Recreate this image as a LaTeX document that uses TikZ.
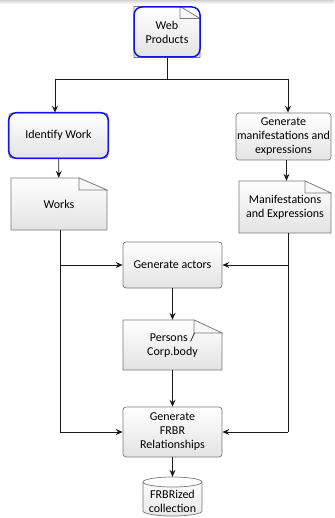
\documentclass[tikz,border=0pt]{standalone}
\usepackage{fontspec}
\setmainfont{Carlito}
\usetikzlibrary{arrows.meta}

\definecolor{edge}{HTML}{7A7A7A}
\definecolor{hiblue}{HTML}{1010F0}
\definecolor{wire}{HTML}{1A1A1A}

% document shape with a folded top-right corner:
% name, x, y, width, height, fold width, fold height, text
\newcommand\docbox[8]{%
  \path[shade, top color=white, bottom color=gray!22, draw=edge, line width=0.7pt]
    ({#2-#4/2},{#3+#5/2}) -- ({#2-#4/2},{#3-#5/2}) -- ({#2+#4/2-#6},{#3-#5/2})
    -- ({#2+#4/2},{#3-#5/2+#7}) -- ({#2+#4/2},{#3+#5/2}) -- cycle;
  \path[fill=gray!6, draw=edge, line width=0.6pt]
    ({#2+#4/2-#6},{#3-#5/2}) -- ({#2+#4/2-#6},{#3-#5/2+#7}) -- ({#2+#4/2},{#3-#5/2+#7}) -- cycle;
  \node[txt, minimum width=#4, minimum height=#5] (#1) at (#2,#3) {#8};%
}

\begin{document}
\begin{tikzpicture}[x=1pt, y=-1pt,
  txt/.style={rectangle, align=center, inner sep=1pt, font=\fontsize{12}{14}\selectfont},
  proc/.style={txt, rounded corners=3pt, draw=edge, line width=0.7pt,
    top color=white, bottom color=gray!22},
  hilite/.style={draw=hiblue, line width=1.5pt, rounded corners=8pt},
  flow/.style={draw=wire, line width=0.8pt},
  arr/.style={flow, -{Stealth[length=7pt, width=6pt, inset=2.5pt]}}]
\useasboundingbox (0,0) rectangle (334,518);
\shade[top color=gray!35, bottom color=white] (0,0) rectangle (334,4);

% source documents and highlighted first step
\docbox{web}{167}{32}{66}{51}{20}{12}{Web\\Products}
\draw[hilite] (134,7) rectangle (200,57);

\node[proc, minimum width=99, minimum height=45] (ident) at (58.5,135.5) {};
\draw[hilite] (ident.south west) rectangle (ident.north east);
\node[txt] at (ident) {Identify Work};

\node[proc, minimum width=95, minimum height=47] (genme) at (283.5,136.5)
  {Generate\\manifestations and\\expressions};

\docbox{works}{59}{204}{96}{52}{28}{12}{Works}
\docbox{me}{285}{207}{92}{52}{26}{12}{Manifestations\\and Expressions}

\node[proc, minimum width=99, minimum height=46] (actors) at (172.5,265) {Generate actors};
\docbox{pers}{172.5}{345}{99}{50}{28}{13}{Persons /\\Corp.body}
\node[proc, minimum width=99, minimum height=50] (frbr) at (172.5,432)
  {Generate\\FRBR\\Relationships};

% stored collection: a cylinder drawn from its body and top ellipse
% (y grows downwards here, so angle 90 is the lowest point of an arc)
\path[shade, top color=white, bottom color=gray!18, draw=edge, line width=0.7pt]
  (143,482) -- (143,511) arc[start angle=180, end angle=0, x radius=29.5, y radius=5]
  -- (202,482) arc[start angle=0, end angle=-180, x radius=29.5, y radius=5] -- cycle;
\draw[edge, line width=0.7pt] (143,482) arc[start angle=180, end angle=0, x radius=29.5, y radius=5];
\node[txt, minimum width=59, minimum height=40] (coll) at (172.5,497) {};
\node[txt] at (172.5,501) {FRBRized\\collection};

% junction points of the connectors
\coordinate (split) at (167,79);
\coordinate (wj) at (60,265);
\coordinate (mj) at (288,265);
\coordinate (wb) at (60,432);
\coordinate (mb) at (288,432);

\draw[flow] (web.south) -- (split);
\draw[arr] (split) -| ([xshift=-3.5pt]ident.north);
\draw[arr] (split) -| ([xshift=4.5pt]genme.north);
\draw[arr] (ident) -- (works);
\draw[arr] ([xshift=3pt]genme.south) -- ([xshift=1.5pt]me.north);

\draw[flow] (works.south -| wj) -- (wb);
\draw[arr] (wj) -- (actors.west);
\draw[arr] (wb) -- (frbr.west);
\draw[flow] (me.south -| mj) -- (mb);
\draw[arr] (mj) -- (actors.east);
\draw[arr] (mb) -- (frbr.east);

\draw[arr] (actors) -- (pers);
\draw[arr] (pers) -- (frbr);
\draw[arr] (frbr) -- (coll);
\end{tikzpicture}
\end{document}
